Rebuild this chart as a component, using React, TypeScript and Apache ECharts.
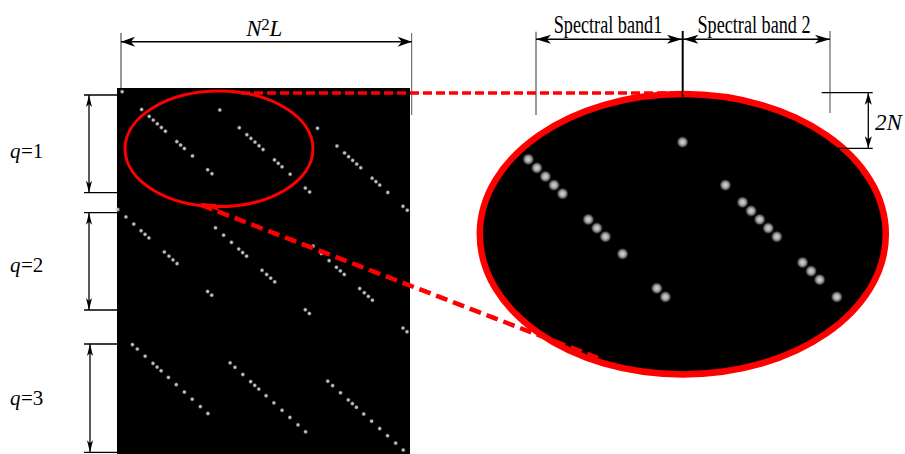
import React, { useEffect, useRef } from "react";
import * as echarts from "echarts";

// ---- Data (matrix cells) ----
// Diagonal positions of the white entries of the first spectral group in each block q
const q1Pattern = [1, 8.2, 11, 12.5, 14, 15.5, 17, 21.2, 22.6, 24, 27, 32.6, 34.2];
const q2Pattern = [-0.6, 2.4, 5.3, 8, 9.45, 10.9, 16.6, 18.3, 19.8, 21.3, 32.6, 34.1];
const q3Pattern = [4.8, 6.6, 9.5, 12.4, 13.9, 15.4, 18.1, 21, 24, 26.9, 29.9, 32.7];
const blockRowOffsets = [0, 49.3, 98.6];
const groupColShifts = [0, 36.1, 72.2];
const groupRowShifts = [0, 7.4, 14.8];
const blockLabels = ["1", "2", "3"];

// Zoomed view: diagonal positions visible in the ellipse for two spectral bands
const band1Visible = [0, 1, 2, 3, 4, 7, 8, 9, 11, 15, 16];
const band2Visible = [-7, -2, 0, 1, 2, 3, 4, 7, 8, 9, 11];
const band2Shift = [25, 5];

const SERIF = '"Liberation Serif", "Times New Roman", serif';

function buildMatrixPoints(): number[][] {
  const pats = [q1Pattern, q2Pattern, q3Pattern];
  const pts: number[][] = [];
  pats.forEach((pat, b) => {
    groupColShifts.forEach((cs, g) => {
      pat.forEach((d) => pts.push([d + cs, d + blockRowOffsets[b] + groupRowShifts[g]]));
    });
  });
  return pts;
}

function buildZoomPoints(): number[][] {
  const pts: number[][] = [];
  band1Visible.forEach((d) => pts.push([d, d]));
  band2Visible.forEach((d) => pts.push([d + band2Shift[0], d + band2Shift[1]]));
  return pts;
}

function ln(x1: number, y1: number, x2: number, y2: number, stroke = "#000", lineWidth = 1.3, z = 50) {
  return { type: "line", z, silent: true, shape: { x1, y1, x2, y2 }, style: { stroke, lineWidth } };
}

function head(tx: number, ty: number, dx: number, dy: number, len: number, half: number, notch: number) {
  const px = -dy;
  const py = dx;
  return {
    type: "polygon",
    z: 51,
    silent: true,
    shape: {
      points: [
        [tx, ty],
        [tx - dx * len + px * half, ty - dy * len + py * half],
        [tx - dx * (len - notch), ty - dy * (len - notch)],
        [tx - dx * len - px * half, ty - dy * len - py * half],
      ],
    },
    style: { fill: "#000" },
  };
}

function txt(x: number, y: number, text: string, font: string, align = "center", scaleX = 1) {
  return {
    type: "text",
    z: 52,
    x,
    y,
    scaleX,
    silent: true,
    style: { text, x: 0, y: 0, font, fill: "#000", textAlign: align, textVerticalAlign: "middle" },
  };
}

export default function App() {
  const ref = useRef<HTMLDivElement>(null);

  useEffect(() => {
    const chart = echarts.init(ref.current!, null, { renderer: "svg" });

    const graphics: any[] = [];

    // Zoomed ellipse background (behind the dots)
    graphics.push({
      type: "ellipse",
      z: 1,
      silent: true,
      shape: { cx: 682.8, cy: 234.3, rx: 203, ry: 140.2 },
      style: { fill: "#000", stroke: "#ff0000", lineWidth: 6.5 },
    });

    // Red dashed connector lines
    graphics.push({
      type: "line",
      z: 60,
      silent: true,
      shape: { x1: 241, y1: 93, x2: 684, y2: 93 },
      style: { stroke: "#ff0000", lineWidth: 3.5, lineDash: [9, 4] },
    });
    graphics.push({
      type: "line",
      z: 60,
      silent: true,
      shape: { x1: 201, y1: 205, x2: 598, y2: 358 },
      style: { stroke: "#ff0000", lineWidth: 4.5, lineDash: [12, 6] },
    });
    graphics.push({
      type: "polygon",
      z: 60,
      silent: true,
      shape: { points: [[199, 203], [216, 204], [219, 211], [207, 207]] },
      style: { fill: "#ff0000" },
    });

    // Left red ellipse (selection)
    graphics.push({
      type: "ellipse",
      z: 60,
      silent: true,
      shape: { cx: 219, cy: 148.8, rx: 94, ry: 57.8 },
      style: { fill: "transparent", stroke: "#ff0000", lineWidth: 3 },
    });

    // N^2 L dimension
    graphics.push(ln(121, 33, 121, 88, "#333", 1));
    graphics.push(ln(411.7, 33, 411.7, 115, "#555", 1));
    graphics.push(ln(121, 41.7, 411.7, 41.7, "#000", 1.5));
    graphics.push(head(121, 41.7, -1, 0, 14, 5, 4));
    graphics.push(head(411.7, 41.7, 1, 0, 14, 5, 4));
    graphics.push(txt(254, 28, "N", `italic 23px ${SERIF}`));
    graphics.push(txt(265.5, 24, "2", `17px ${SERIF}`));
    graphics.push(txt(276, 28, "L", `italic 23px ${SERIF}`));

    // Spectral band dimensions
    graphics.push(ln(536, 31.7, 536, 115, "#333", 1));
    graphics.push(ln(682.7, 31, 682.7, 96.7, "#000", 2));
    graphics.push(ln(830, 31, 830, 113, "#444", 1));
    graphics.push(ln(536, 39.3, 682.7, 39.3, "#000", 1.5));
    graphics.push(ln(682.7, 39.3, 830, 39.3, "#000", 1.5));
    graphics.push(head(536, 39.3, -1, 0, 15, 4.5, 4));
    graphics.push(head(682, 39.3, 1, 0, 15, 4.5, 4));
    graphics.push(head(683.4, 39.3, -1, 0, 15, 4.5, 4));
    graphics.push(head(830, 39.3, 1, 0, 15, 4.5, 4));
    graphics.push(txt(608, 24, "Spectral band1", `26px ${SERIF}`, "center", 0.7));
    graphics.push(txt(754, 24, "Spectral band 2", `26px ${SERIF}`, "center", 0.7));

    // 2N dimension
    graphics.push(ln(821.7, 92.7, 872.7, 92.7, "#000", 1.2));
    graphics.push(ln(836.7, 148.3, 872.7, 148.3, "#000", 1.2));
    graphics.push(ln(868.3, 92.7, 868.3, 148.3, "#000", 1.3));
    graphics.push(head(868.3, 92.7, 0, -1, 12, 3.5, 3));
    graphics.push(head(868.3, 148.3, 0, 1, 12, 3.5, 3));
    graphics.push(txt(875, 122, "2N", `italic 23px ${SERIF}`, "left"));

    // q block dimensions
    const qRanges = [
      [95, 192.7, 89, 151],
      [212.7, 310, 89, 265],
      [344, 452.3, 90, 397.7],
    ];
    qRanges.forEach(([top, bottom, x, ly], i) => {
      graphics.push(ln(84, top, 117, top, "#000", 1.3));
      graphics.push(ln(84, bottom, 117, bottom, "#000", 1.3));
      graphics.push(ln(x, top, x, bottom, "#000", 1.3));
      graphics.push(head(x, top, 0, -1, 12, 3, 3));
      graphics.push(head(x, bottom, 0, 1, 12, 3, 3));
      graphics.push(txt(10, ly, "q", `italic 21px ${SERIF}`, "left"));
      graphics.push(txt(21, ly, "=" + blockLabels[i], `21px ${SERIF}`, "left"));
    });

    const smallDot = {
      type: "radial",
      x: 0.5,
      y: 0.5,
      r: 0.5,
      colorStops: [
        { offset: 0, color: "#ffffff" },
        { offset: 0.45, color: "#e2e2e2" },
        { offset: 1, color: "rgba(120,120,120,0.1)" },
      ],
    };
    const bigDot = {
      type: "radial",
      x: 0.5,
      y: 0.5,
      r: 0.5,
      colorStops: [
        { offset: 0, color: "#ffffff" },
        { offset: 0.3, color: "#eeeeee" },
        { offset: 0.65, color: "#888888" },
        { offset: 1, color: "rgba(0,0,0,0)" },
      ],
    };

    const option: any = {
      animation: false,
      backgroundColor: "#fff",
      grid: [
        { left: 117, top: 88, width: 293, height: 366, show: true, backgroundColor: "#000", borderWidth: 0 },
        { left: 442.6, top: 73.3, width: 428.5, height: 301, show: false },
      ],
      xAxis: [
        { type: "value", gridIndex: 0, min: -0.9, max: 107.4, show: false },
        { type: "value", gridIndex: 1, min: -10, max: 40, show: false },
      ],
      yAxis: [
        { type: "value", gridIndex: 0, min: -0.5, max: 147.7, inverse: true, show: false },
        { type: "value", gridIndex: 1, min: -10, max: 25, inverse: true, show: false },
      ],
      series: [
        {
          type: "scatter",
          xAxisIndex: 0,
          yAxisIndex: 0,
          data: buildMatrixPoints(),
          symbol: "circle",
          symbolSize: 5,
          itemStyle: { color: smallDot },
          silent: true,
          z: 3,
        },
        {
          type: "scatter",
          xAxisIndex: 1,
          yAxisIndex: 1,
          data: buildZoomPoints(),
          symbol: "circle",
          symbolSize: 13,
          itemStyle: { color: bigDot },
          silent: true,
          z: 3,
        },
      ],
      graphic: { elements: graphics },
    };

    chart.setOption(option);
    return () => chart.dispose();
  }, []);

  return (
    <div
      ref={ref}
      style={{ position: "fixed", left: 0, top: 0, width: 905, height: 454, background: "#fff" }}
    />
  );
}
